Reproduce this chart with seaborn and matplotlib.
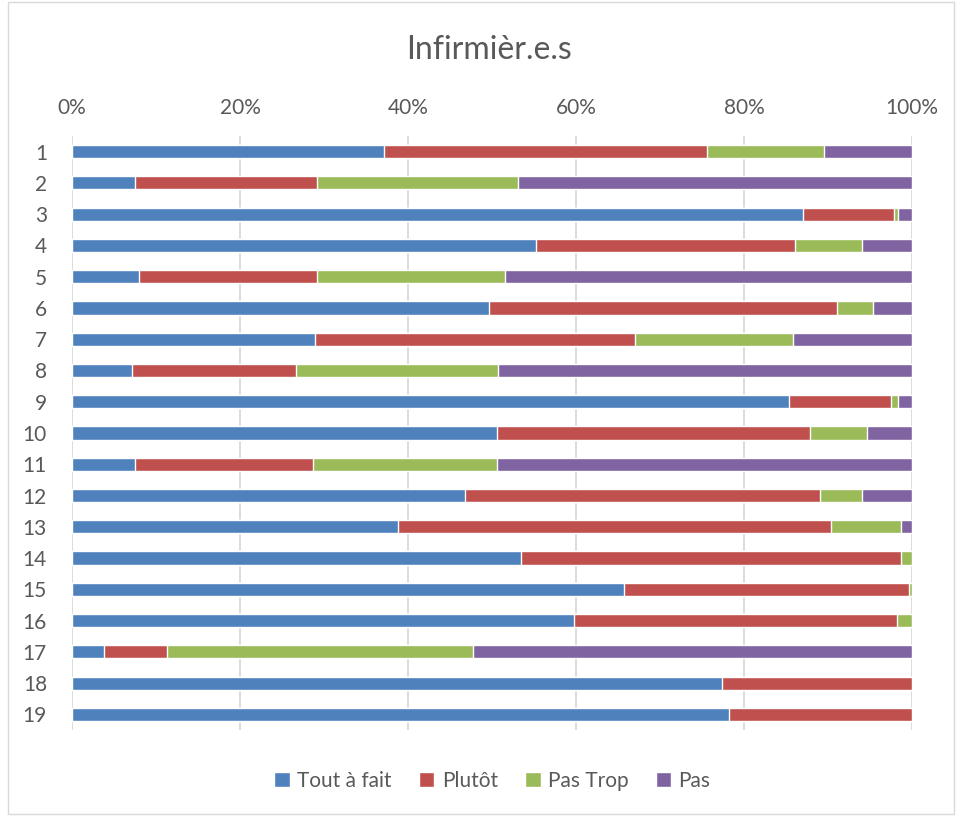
import numpy as np
import pandas as pd
import matplotlib
matplotlib.use("Agg")
import matplotlib.pyplot as plt
import seaborn as sns
from matplotlib.patches import Patch

# data (percent per row)
QUESTIONS = [str(i) for i in range(1, 20)]
TOUT_A_FAIT = [37.2, 7.5, 87.0, 55.2, 8.0, 49.7, 28.9, 7.1, 85.4, 50.6,
               7.5, 46.8, 38.8, 53.5, 65.7, 59.8, 3.8, 77.4, 78.2]
PLUTOT = [38.4, 21.7, 10.9, 30.9, 21.2, 41.4, 38.1, 19.6, 12.1, 37.3,
          21.2, 42.3, 51.5, 45.2, 33.9, 38.4, 7.5, 22.6, 21.8]
PAS_TROP = [13.9, 23.9, 0.4, 8.0, 22.3, 4.2, 18.8, 24.0, 0.8, 6.7,
            21.9, 5.0, 8.4, 1.3, 0.4, 1.8, 36.4, 0.0, 0.0]
PAS = [10.5, 46.9, 1.7, 5.9, 48.5, 4.7, 14.2, 49.3, 1.7, 5.4,
       49.4, 5.9, 1.3, 0.0, 0.0, 0.0, 52.3, 0.0, 0.0]

SERIES = ["Tout à fait", "Plutôt", "Pas Trop", "Pas"]
COLORS = ["#4F81BD", "#C0504D", "#9BBB59", "#8064A2"]

df = pd.DataFrame({"q": QUESTIONS, "Tout à fait": TOUT_A_FAIT, "Plutôt": PLUTOT,
                   "Pas Trop": PAS_TROP, "Pas": PAS})
cum = df[SERIES].cumsum(axis=1)
cum["q"] = df["q"]

sns.set_style("white")
plt.rcParams["font.family"] = ["Lato", "DejaVu Sans"]

fig = plt.figure(figsize=(9.56, 8.16), dpi=100)
ax = fig.add_axes([72 / 956, 1 - 730 / 816, 840 / 956, 594 / 816])

# stacked bars: draw cumulative totals from the back
for name, col in reversed(list(zip(SERIES, COLORS))):
    sns.barplot(data=cum, y="q", x=name, order=QUESTIONS, orient="h",
                color=col, width=0.42, saturation=1, ax=ax, zorder=3)

ax.set_xlim(0, 100)
ax.set_xticks(np.arange(0, 101, 20))
ax.set_xticklabels([f"{v}%" for v in range(0, 101, 20)])
ax.xaxis.tick_top()
ax.set_xlabel("")
ax.set_ylabel("")
ax.grid(axis="x", color="#D9D9D9", linewidth=1.3, zorder=0)
ax.set_axisbelow(True)
for s in ax.spines.values():
    s.set_visible(False)
ax.tick_params(axis="both", length=0, labelsize=15, colors="#595959")
ax.tick_params(axis="x", pad=13)
ax.tick_params(axis="y", pad=18)
for lbl in ax.get_yticklabels():
    lbl.set_horizontalalignment("right")

fig.text(0.512, 1 - 50 / 816, "Infirmièr.e.s", ha="center", va="center",
         fontsize=23, color="#595959")

handles = [Patch(facecolor=c, label=s) for s, c in zip(SERIES, COLORS)]
fig.legend(handles=handles, loc="center", bbox_to_anchor=(0.515, 1 - 781 / 816),
           ncol=4, frameon=False, fontsize=15, handlelength=0.75, handleheight=0.75,
           columnspacing=1.3, handletextpad=0.35, labelcolor="#595959")

fig.patches.append(plt.Rectangle((8 / 956, 0.002), 1 - 10 / 956, 0.996,
                                 transform=fig.transFigure, fill=False,
                                 edgecolor="#D9D9D9", linewidth=1))

fig.savefig("out.png", dpi=100)
